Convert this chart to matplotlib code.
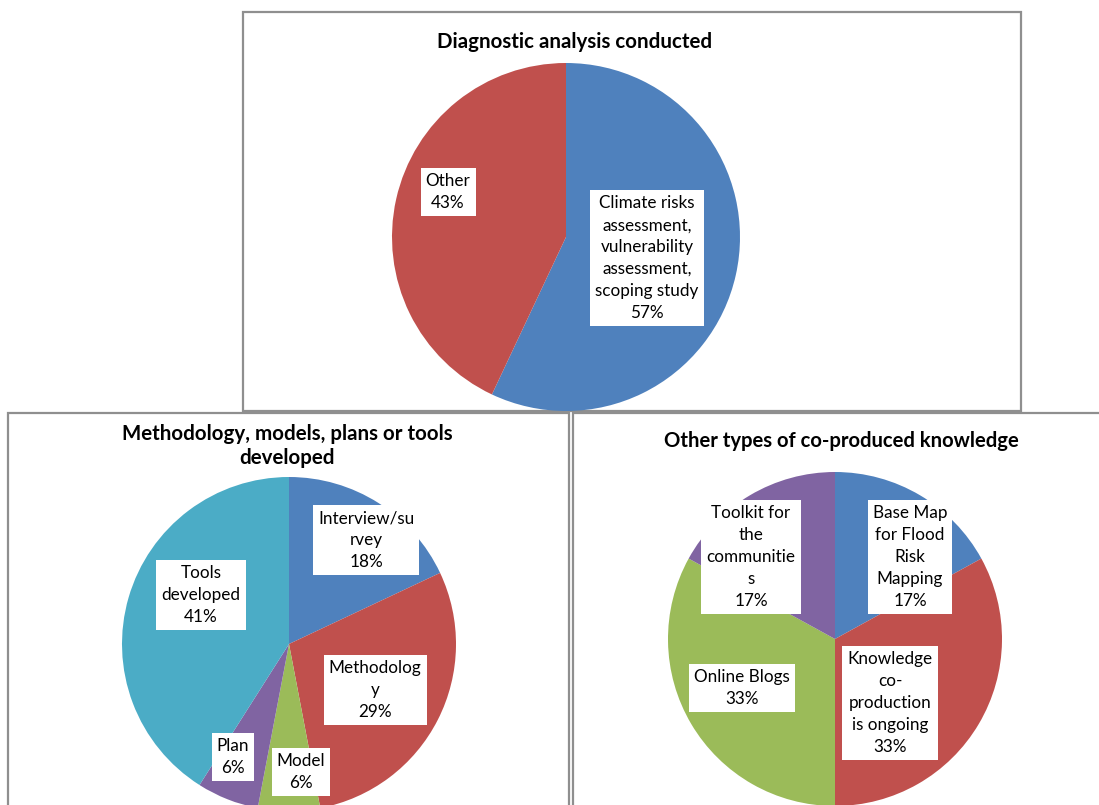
import matplotlib
matplotlib.use("Agg")
import matplotlib.pyplot as plt
from matplotlib.patches import Rectangle

plt.rcParams['font.family'] = ['Lato', 'DejaVu Sans']

# ---------------- data ----------------
diag_labels = ["Climate risks\nassessment,\nvulnerability\nassessment,\nscoping study", "Other"]
diag_values = [57, 43]

meth_labels = ["Interview/su\nrvey", "Methodolog\ny", "Model", "Plan", "Tools\ndeveloped"]
meth_values = [18, 29, 6, 6, 41]

other_labels = ["Base Map\nfor Flood\nRisk\nMapping", "Knowledge\nco-\nproduction\nis ongoing",
                "Online Blogs", "Toolkit for\nthe\ncommunitie\ns"]
other_values = [17, 33, 33, 17]

titles = ["Diagnostic analysis conducted",
          "Methodology, models, plans or tools\ndeveloped",
          "Other types of co-produced knowledge"]

# ---------------- style ----------------
BLUE, RED, GREEN, PURPLE, CYAN = "#4F81BD", "#C0504D", "#9BBB59", "#8064A2", "#4BACC6"
diag_colors = [BLUE, RED]
meth_colors = [BLUE, RED, GREEN, PURPLE, CYAN]
other_colors = [BLUE, RED, GREEN, PURPLE]

W, H = 1099, 805
fig = plt.figure(figsize=(W / 100, H / 100), dpi=100)
ax = fig.add_axes([0, 0, 1, 1])

def Y(py):
    return H - py

# panel borders (pixel coords: x0, y0_top, x1, y1_bottom)
border_col = "#8F8F8F"
for (x0, y0, x1, y1) in [(8, 413, 569, 812), (573, 413, 1110, 812), (243, 12, 1021, 411)]:
    ax.add_patch(Rectangle((x0, Y(y1)), x1 - x0, y1 - y0, fill=True, fc="white",
                           ec=border_col, lw=1.6, zorder=0))

# pies: (values, colors, center px, radius px)
pies = [
    (diag_values, diag_colors, (566, 237), 174),
    (meth_values, meth_colors, (289, 644), 167),
    (other_values, other_colors, (835, 639), 167),
]
for vals, cols, (cx, cy), r in pies:
    ax.pie(vals, colors=cols, startangle=90, counterclock=False,
           center=(cx, Y(cy)), radius=r, frame=True,
           wedgeprops=dict(linewidth=0))

# label positions (pixel coords)
label_sets = [
    (diag_labels, diag_values, [(647, 258), (448, 192)]),
    (meth_labels, meth_values, [(366, 540), (375, 690), (301, 772), (233, 757), (201, 595)]),
    (other_labels, other_values, [(910, 557), (890, 703), (742, 688), (751, 557)]),
]
for labs, vals, poss in label_sets:
    for lab, v, (px, py) in zip(labs, vals, poss):
        ax.text(px, Y(py), f"{lab}\n{v}%", ha="center", va="center", multialignment="center",
                fontsize=12.3, linespacing=1.45, color="black", zorder=5,
                bbox=dict(boxstyle="square,pad=0.3", fc="white", ec="none"))

# titles
ax.text(575, Y(42), titles[0], ha="center", va="center", fontsize=14.8, fontweight="bold")
ax.text(287, Y(446), titles[1], ha="center", va="center", fontsize=14.8, fontweight="bold",
        linespacing=1.2)
ax.text(841, Y(441), titles[2], ha="center", va="center", fontsize=14.6, fontweight="bold")

ax.set_xlim(0, W)
ax.set_ylim(0, H)
ax.set_aspect("auto")
ax.axis("off")

fig.savefig("out.png", dpi=100)
